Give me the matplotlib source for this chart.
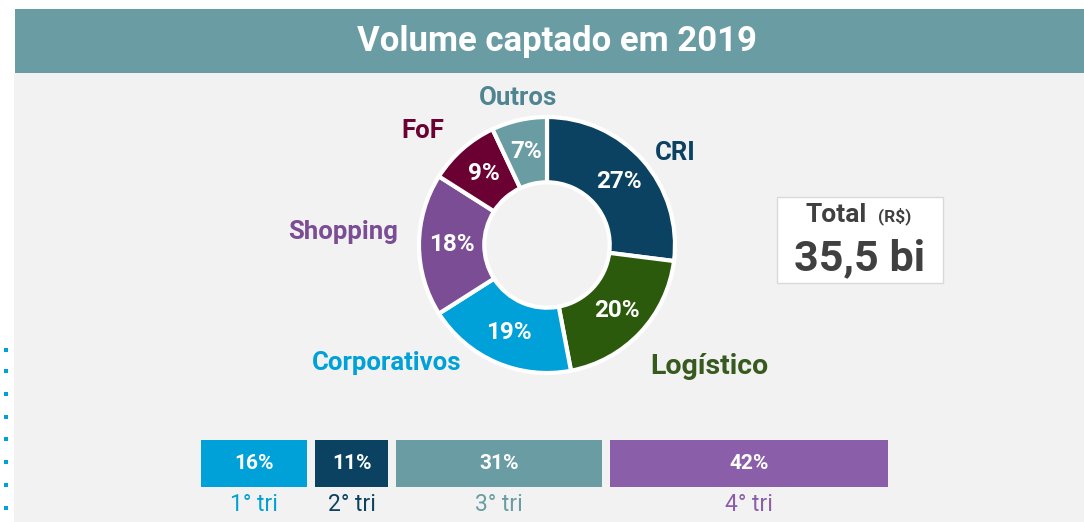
import matplotlib
matplotlib.use("Agg")
import matplotlib.pyplot as plt
from matplotlib.patches import Rectangle
import numpy as np

# ---- data ----
title = "Volume captado em 2019"
segments = ["CRI", "Logístico", "Corporativos", "Shopping", "FoF", "Outros"]
shares = [27, 20, 19, 18, 9, 7]
seg_colors = ["#0b4262", "#2c5a0c", "#00a0d8", "#7a4d94", "#6b0032", "#6a9ca4"]
label_colors = ["#0b4262", "#375a1e", "#00a0d8", "#7a4d94", "#6b0032", "#4f8590"]
quarters = ["1° tri", "2° tri", "3° tri", "4° tri"]
quarter_shares = [16, 11, 31, 42]
quarter_colors = ["#00a0d8", "#0b4262", "#6a9ca4", "#8a5ea8"]
total_label = "Total"
total_unit = "(R$)"
total_value = "35,5 bi"

W, H = 1084, 522
fig = plt.figure(figsize=(W / 100, H / 100), dpi=100)
fig.patch.set_facecolor("white")
FONT = "Roboto"

# background axes in pixel coordinates (y downwards)
bg = fig.add_axes([0, 0, 1, 1])
bg.set_xlim(0, W)
bg.set_ylim(H, 0)
bg.axis("off")
bg.add_patch(Rectangle((14, 73), W - 14, H - 73, facecolor="#f2f2f2", edgecolor="none"))
bg.add_patch(Rectangle((15, 9), W - 15, 64, facecolor="#6a9ca4", edgecolor="none"))
bg.text(557, 42, title, color="white", fontsize=25, fontweight="bold",
        ha="center", va="center", family=FONT)

# small dotted marks on left edge
dot_y = [350, 371, 394, 417, 439, 462, 485, 508]
bg.scatter([5.5] * len(dot_y), dot_y, marker="s", s=5, color="#00a0d8", linewidths=0)

# total box
bg.add_patch(Rectangle((777, 197), 166, 86, facecolor="white", edgecolor="#d9d9d9", lw=1))
bg.text(836, 215, total_label, color="#404040", fontsize=19, fontweight="bold",
        ha="center", va="center", family=FONT)
bg.text(895, 216, total_unit, color="#404040", fontsize=12.5, fontweight="bold",
        ha="center", va="center", family=FONT)
bg.text(859, 259, total_value, color="#404040", fontsize=31, fontweight="bold",
        ha="center", va="center", family=FONT)

# outer donut labels (positions in px)
label_pos = {"CRI": (675, 153), "Logístico": (709, 367), "Corporativos": (387, 363),
             "Shopping": (343, 232), "FoF": (423, 131), "Outros": (518, 98)}
label_size = {"CRI": 18.5, "Logístico": 20.5, "Corporativos": 18.5,
              "Shopping": 18.5, "FoF": 18.5, "Outros": 18.5}
for name, col in zip(segments, label_colors):
    x, y = label_pos[name]
    bg.text(x, y, name, color=col, fontsize=label_size[name], fontweight="bold",
            ha="center", va="center", family=FONT)

# donut axes
cx, cy, R = 547, 245, 128
pad = 4
size = 2 * (R + pad)
pie_ax = fig.add_axes([(cx - R - pad) / W, (H - cy - R - pad) / H, size / W, size / H])
wedges, texts, autotexts = pie_ax.pie(
    shares, colors=seg_colors, startangle=90, counterclock=False,
    radius=1.0, autopct=lambda p: f"{p:.0f}%", pctdistance=0.745,
    wedgeprops=dict(width=0.51, edgecolor="white", linewidth=3),
    textprops=dict(color="white", fontsize=17.5, fontweight="bold", family=FONT))
pie_ax.set_xlim(-1 - pad / R, 1 + pad / R)
pie_ax.set_ylim(-1 - pad / R, 1 + pad / R)
pie_ax.set_aspect("equal")
pie_ax.axis("off")

# quarter bars
bx0, bx1, by0, by1 = 201, 888, 440, 487
bar_ax = fig.add_axes([bx0 / W, (H - by1) / H, (bx1 - bx0) / W, (by1 - by0) / H])
gap_px = 8
scale = ((bx1 - bx0) - gap_px * (len(quarter_shares) - 1)) / sum(quarter_shares)
gap = gap_px / scale
lefts = np.cumsum([0] + quarter_shares[:-1]) + gap * np.arange(len(quarter_shares))
bar_ax.barh([0] * len(quarter_shares), quarter_shares, left=lefts, height=1.0,
            color=quarter_colors, edgecolor="none")
bar_ax.set_xlim(0, sum(quarter_shares) + gap * (len(quarter_shares) - 1))
bar_ax.set_ylim(-0.5, 0.5)
bar_ax.axis("off")
for l, v, q, c in zip(lefts, quarter_shares, quarters, quarter_colors):
    bar_ax.text(l + v / 2, 0, f"{v}%", color="white", fontsize=15, fontweight="bold",
                ha="center", va="center", family=FONT)
    bar_ax.text(l + v / 2, -0.88, q, color=c, fontsize=16.5,
                ha="center", va="center", family=FONT, clip_on=False)

fig.savefig("out.png", dpi=100, facecolor="white")
